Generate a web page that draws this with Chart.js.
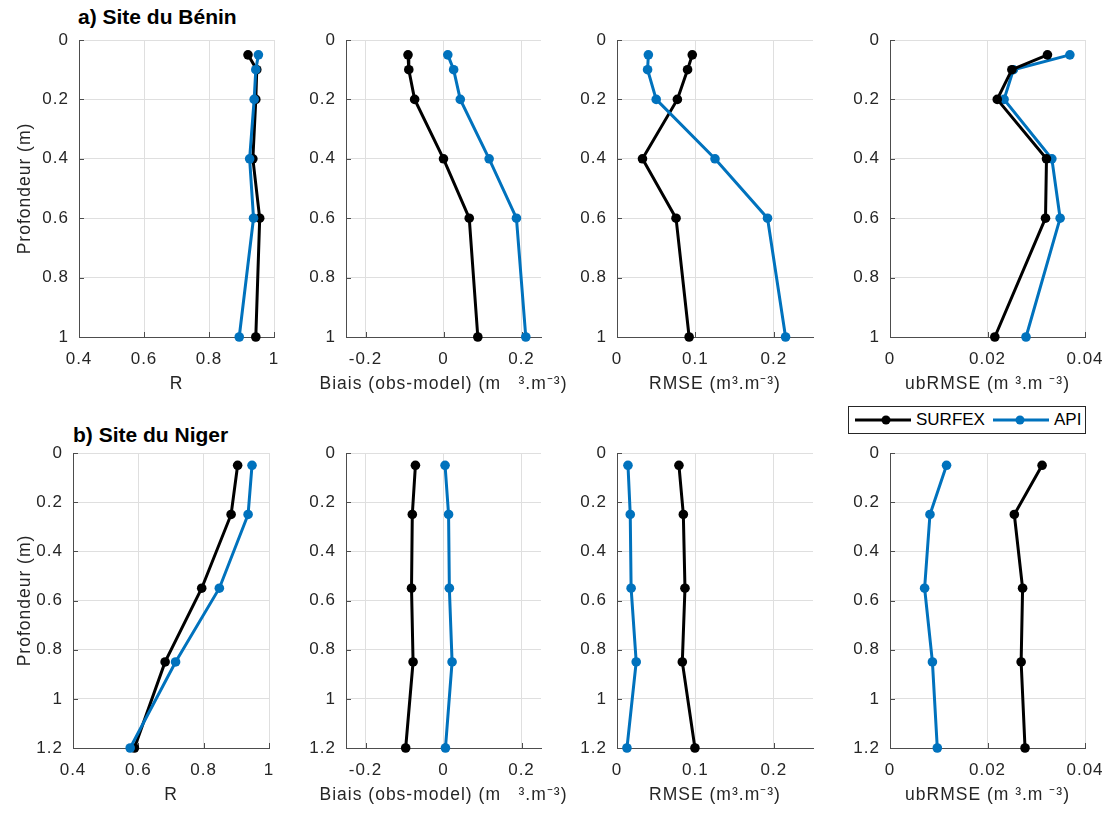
<!DOCTYPE html>
<html>
<head>
<meta charset="utf-8">
<script src="https://cdn.jsdelivr.net/npm/chart.js@4.4.1/dist/chart.umd.min.js"></script>
<style>
  html, body { margin:0; padding:0; background:#fff; }
  body { width:1105px; height:813px; position:relative; overflow:hidden; font-family:'Liberation Sans', Arial, Helvetica, sans-serif; }
  canvas { position:absolute; }
  .ttl { position:absolute; font-weight:bold; font-size:21px; line-height:24px; color:#000; white-space:nowrap; }
  #legend { position:absolute; left:848px; top:406px; width:236px; height:26px; border:1px solid #262626; background:#fff; }
  #legend span { position:absolute; top:2px; font-size:17px; line-height:22px; color:#000; }
  #legend svg { position:absolute; left:0; top:0; }
</style>
</head>
<body>
<div class="ttl" style="left:78px; top:5px;">a) Site du Bénin</div>
<div class="ttl" style="left:73px; top:423px;">b) Site du Niger</div>
<div id="legend">
  <svg width="236" height="26">
    <line x1="6" y1="13" x2="62" y2="13" stroke="#000" stroke-width="3"/>
    <circle cx="37" cy="13" r="4.5" fill="#000"/>
    <line x1="144" y1="13" x2="200" y2="13" stroke="#0072BD" stroke-width="3"/>
    <circle cx="171" cy="13" r="4.5" fill="#0072BD"/>
  </svg>
  <span style="left:67px;">SURFEX</span>
  <span style="left:205px;">API</span>
</div>
<script>
// ---------- data ----------
const seriesNames = ['SURFEX', 'API'];
const depthBenin = [0.05, 0.1, 0.2, 0.4, 0.6, 1.0];
const depthNiger = [0.05, 0.25, 0.55, 0.85, 1.2];

const beninR_surfex = [0.920, 0.947, 0.944, 0.935, 0.956, 0.944];
const beninR_api    = [0.952, 0.944, 0.939, 0.925, 0.937, 0.893];
const beninBias_surfex = [-0.091, -0.089, -0.074, 0.000, 0.066, 0.088];
const beninBias_api    = [0.011, 0.026, 0.043, 0.117, 0.187, 0.211];
const beninRMSE_surfex = [0.096, 0.090, 0.077, 0.0325, 0.0753, 0.092];
const beninRMSE_api    = [0.040, 0.039, 0.050, 0.125, 0.192, 0.215];
const beninUb_surfex = [0.0323, 0.0250, 0.0220, 0.0321, 0.0319, 0.0215];
const beninUb_api    = [0.0369, 0.0253, 0.0234, 0.0332, 0.0349, 0.0279];

const nigerR_surfex = [0.904, 0.884, 0.794, 0.682, 0.588];
const nigerR_api    = [0.948, 0.936, 0.848, 0.714, 0.575];
const nigerBias_surfex = [-0.072, -0.080, -0.082, -0.078, -0.097];
const nigerBias_api    = [0.004, 0.013, 0.015, 0.022, 0.005];
const nigerRMSE_surfex = [0.079, 0.0846, 0.0867, 0.0833, 0.0994];
const nigerRMSE_api    = [0.014, 0.0169, 0.018, 0.0245, 0.0127];
const nigerUb_surfex = [0.0312, 0.0255, 0.0272, 0.0269, 0.0277];
const nigerUb_api    = [0.0116, 0.0082, 0.0071, 0.0087, 0.0097];

// tick labels
const ticksR    = [0.4, 0.6, 0.8, 1];
const ticksBias = [-0.2, 0, 0.2];
const ticksRMSE = [0, 0.1, 0.2];
const ticksUb   = [0, 0.02, 0.04];
const ticksDepthBenin = [0, 0.2, 0.4, 0.6, 0.8, 1];
const ticksDepthNiger = [0, 0.2, 0.4, 0.6, 0.8, 1, 1.2];

const labelR = 'R';
const labelBias = 'Biais (obs-model) (m   ³.m⁻³)';
const labelRMSE = 'RMSE (m³.m⁻³)';
const labelUb = 'ubRMSE (m ³.m ⁻³)';
const labelDepth = 'Profondeur (m)';

// ---------- style ----------
const FONT = "'Liberation Sans', Arial, Helvetica, sans-serif";
const TXT = '#262626';
const GRID = '#dfdfdf';
const AXIS = '#4d4d4d';
const COL_S = '#000000';
const COL_A = '#0072BD';
const TICK_SIZE = 17, TITLE_SIZE = 17.5, SPACING = '1px';
const M = {l:75, t:12, r:34, b:62};

const innerTicks = {
  id: 'innerTicks',
  beforeLayout(chart) { chart.ctx.letterSpacing = SPACING; },
  beforeDraw(chart) { chart.ctx.letterSpacing = SPACING; },
  beforeDatasetsDraw(chart) {
    const ctx = chart.ctx, a = chart.chartArea;
    ctx.save();
    ctx.strokeStyle = AXIS; ctx.lineWidth = 1;
    const xs = chart.scales.x, ys = chart.scales.y;
    ctx.beginPath();
    xs.ticks.forEach(t => { const p = Math.round(xs.getPixelForValue(t.value)) + 0.5; ctx.moveTo(p, a.bottom); ctx.lineTo(p, a.bottom - 5); });
    ys.ticks.forEach(t => { const p = Math.round(ys.getPixelForValue(t.value)) + 0.5; ctx.moveTo(a.left, p); ctx.lineTo(a.left + 5, p); });
    ctx.stroke();
    ctx.restore();
  },
  afterDraw(chart) {
    // x-axis title, centred under the plot, allowed to run wider than the plot
    const ctx = chart.ctx, a = chart.chartArea;
    const t = chart.scales.x.options.title;
    ctx.save();
    ctx.letterSpacing = SPACING;
    ctx.font = TITLE_SIZE + 'px ' + FONT;
    ctx.fillStyle = TXT;
    ctx.textAlign = 'center';
    ctx.textBaseline = 'middle';
    ctx.fillText(t.text, (a.left + a.right) / 2, a.bottom + 47);
    ctx.restore();
  }
};

function ds(label, xs, ys, color, order) {
  return {
    label, data: xs.map((v, i) => ({x: v, y: ys[i]})),
    borderColor: color, backgroundColor: color,
    borderWidth: 3, pointRadius: 4.8, pointHoverRadius: 4.8,
    pointBorderWidth: 0, pointBackgroundColor: color,
    tension: 0, clip: false, order
  };
}

function makeChart(box, xMin, xMax, xTicks, xLabel, depth, yMax, yTicks, sVals, aVals, showYTitle, apiOnTop) {
  const W = box.r - box.l, H = box.b - box.t;
  const cv = document.createElement('canvas');
  cv.width = W + M.l + M.r; cv.height = H + M.t + M.b;
  cv.style.left = (box.l - M.l) + 'px'; cv.style.top = (box.t - M.t) + 'px';
  cv.style.width = cv.width + 'px'; cv.style.height = cv.height + 'px';
  document.body.appendChild(cv);
  const half = TITLE_SIZE * 1.2 / 2;
  const yTitlePad = Math.max(0, (M.l - (box.l - 25)) - half);
  new Chart(cv.getContext('2d'), {
    type: 'line',
    data: { datasets: [
      ds(seriesNames[0], sVals, depth, COL_S, apiOnTop ? 1 : 0),
      ds(seriesNames[1], aVals, depth, COL_A, apiOnTop ? 0 : 1)
    ]},
    options: {
      responsive: false, animation: false, devicePixelRatio: 1,
      layout: { padding: { left: 0, top: M.t, right: M.r, bottom: 0 } },
      plugins: { legend: { display: false }, tooltip: { enabled: false }, title: { display: false } },
      events: [],
      scales: {
        x: {
          type: 'linear', position: 'bottom', min: xMin, max: xMax,
          afterBuildTicks: s => { s.ticks = xTicks.map(v => ({value: v})); },
          afterFit: s => { s.height = M.b; s.paddingLeft = 0; s.paddingRight = 0; },
          ticks: { padding: 12, color: TXT, font: { family: FONT, size: TICK_SIZE }, maxRotation: 0, autoSkip: false,
                   callback: v => String(v) },
          grid: { color: GRID, lineWidth: 1, drawTicks: false },
          border: { display: true, color: AXIS, width: 1 },
          title: { display: false, text: xLabel, color: TXT, font: { family: FONT, size: TITLE_SIZE } }
        },
        y: {
          type: 'linear', position: 'left', reverse: true, min: 0, max: yMax,
          afterBuildTicks: s => { s.ticks = yTicks.map(v => ({value: v})); },
          afterFit: s => { s.width = M.l; s.paddingTop = 0; s.paddingBottom = 0; },
          ticks: { padding: 10, color: TXT, font: { family: FONT, size: TICK_SIZE }, autoSkip: false,
                   callback: v => String(v) },
          grid: { color: GRID, lineWidth: 1, drawTicks: false },
          border: { display: true, color: AXIS, width: 1 },
          title: { display: showYTitle, text: labelDepth, color: TXT, font: { family: FONT, size: TITLE_SIZE }, padding: { top: yTitlePad, bottom: 0 } }
        }
      }
    },
    plugins: [innerTicks]
  });
}

const row1 = { t: 40, b: 337 };
const row2 = { t: 453, b: 748 };
const colsRow1 = [[79, 274], [346, 541], [617, 813], [890, 1085]];
const colsRow2 = [[73, 269], [346, 541], [617, 813], [890, 1085]];

function box(row, col) { return { l: col[0], r: col[1], t: row.t, b: row.b }; }

makeChart(box(row1, colsRow1[0]), 0.4, 1, ticksR, labelR, depthBenin, 1, ticksDepthBenin, beninR_surfex, beninR_api, true, true);
makeChart(box(row1, colsRow1[1]), -0.25, 0.25, ticksBias, labelBias, depthBenin, 1, ticksDepthBenin, beninBias_surfex, beninBias_api, false, true);
makeChart(box(row1, colsRow1[2]), 0, 0.25, ticksRMSE, labelRMSE, depthBenin, 1, ticksDepthBenin, beninRMSE_surfex, beninRMSE_api, false, true);
makeChart(box(row1, colsRow1[3]), 0, 0.04, ticksUb, labelUb, depthBenin, 1, ticksDepthBenin, beninUb_surfex, beninUb_api, false, false);

makeChart(box(row2, colsRow2[0]), 0.4, 1, ticksR, labelR, depthNiger, 1.2, ticksDepthNiger, nigerR_surfex, nigerR_api, true, true);
makeChart(box(row2, colsRow2[1]), -0.25, 0.25, ticksBias, labelBias, depthNiger, 1.2, ticksDepthNiger, nigerBias_surfex, nigerBias_api, false, true);
makeChart(box(row2, colsRow2[2]), 0, 0.25, ticksRMSE, labelRMSE, depthNiger, 1.2, ticksDepthNiger, nigerRMSE_surfex, nigerRMSE_api, false, true);
makeChart(box(row2, colsRow2[3]), 0, 0.04, ticksUb, labelUb, depthNiger, 1.2, ticksDepthNiger, nigerUb_surfex, nigerUb_api, false, false);
</script>
</body>
</html>
